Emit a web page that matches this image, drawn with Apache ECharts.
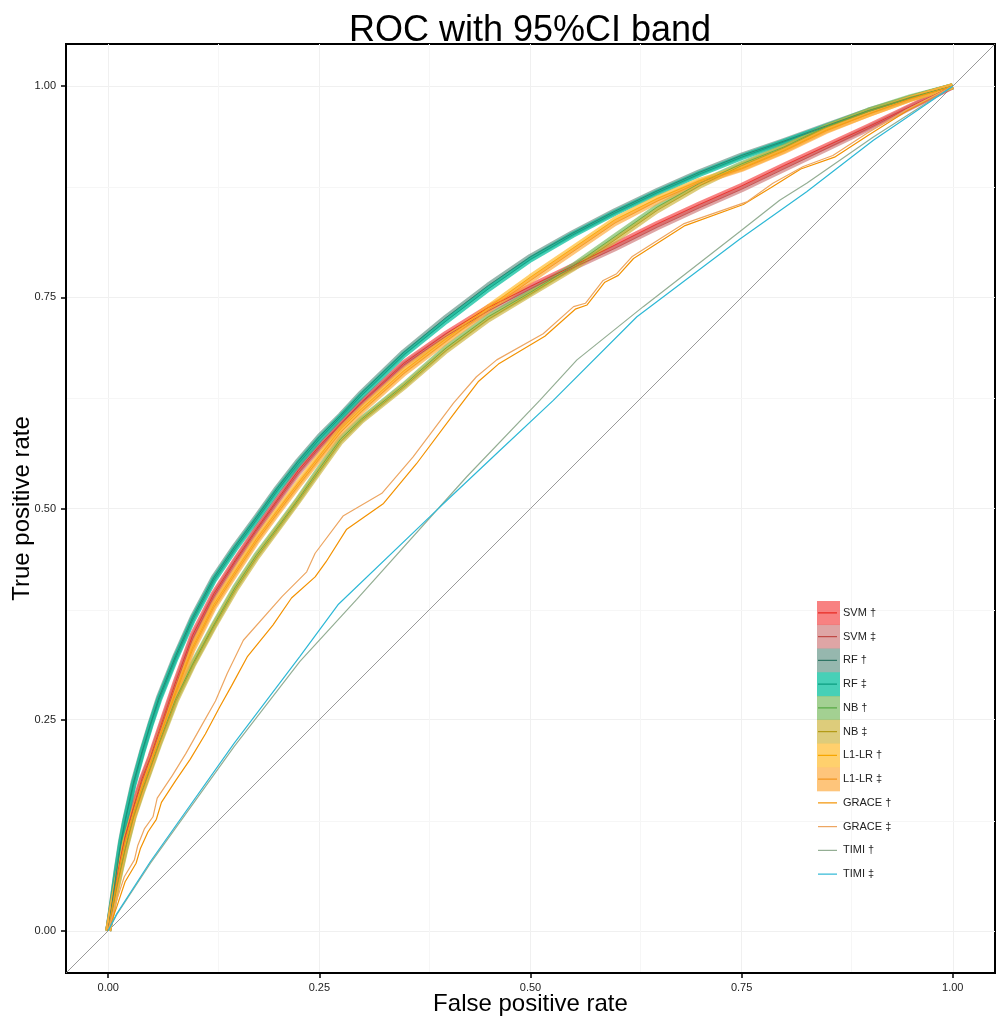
<!DOCTYPE html>
<html>
<head>
<meta charset="utf-8">
<script src="https://cdn.jsdelivr.net/npm/echarts@6/dist/echarts.min.js"></script>
<style>
html,body{margin:0;padding:0;background:#fff;}
#chart{width:1004px;height:1024px;}
</style>
</head>
<body>
<div id="chart"></div>
<script>
// ---------- data ----------
const tickValues = [0, 0.25, 0.5, 0.75, 1];
const gridMajor = [0, 0.25, 0.5, 0.75, 1];
const gridMinor = [0.125, 0.375, 0.625, 0.875];
const diagonal = [[-0.05, -0.05], [1.05, 1.05]];

const fprGrid = [0,0.005,0.01,0.015,0.02,0.03,0.04,0.05,0.06,0.08,0.1,0.125,0.15,0.175,0.2,0.225,0.25,0.275,0.3,0.35,0.4,0.45,0.5,0.55,0.6,0.65,0.7,0.75,0.8,0.85,0.9,0.95,1];

const svm1 = [0,0.032,0.062,0.088,0.112,0.147,0.180,0.206,0.236,0.295,0.350,0.399,0.438,0.475,0.510,0.545,0.574,0.600,0.626,0.672,0.707,0.738,0.763,0.787,0.812,0.837,0.860,0.882,0.906,0.929,0.952,0.976,1];
const svm2 = [0,0.030,0.059,0.086,0.110,0.145,0.177,0.204,0.233,0.291,0.346,0.396,0.436,0.473,0.508,0.542,0.572,0.599,0.625,0.670,0.704,0.734,0.760,0.785,0.808,0.833,0.856,0.878,0.902,0.926,0.950,0.975,1];
const rf1  = [0,0.036,0.072,0.105,0.131,0.176,0.212,0.245,0.276,0.326,0.371,0.418,0.455,0.489,0.524,0.556,0.585,0.610,0.637,0.685,0.726,0.764,0.798,0.826,0.852,0.876,0.898,0.918,0.935,0.953,0.971,0.986,1];
const rf2  = [0,0.034,0.070,0.102,0.129,0.173,0.210,0.243,0.273,0.323,0.368,0.415,0.452,0.486,0.521,0.553,0.582,0.608,0.634,0.682,0.722,0.760,0.795,0.824,0.850,0.874,0.896,0.916,0.934,0.952,0.970,0.986,1];
const nb1  = [0,0.026,0.052,0.075,0.097,0.136,0.166,0.194,0.222,0.275,0.316,0.362,0.406,0.444,0.477,0.511,0.547,0.582,0.606,0.646,0.690,0.727,0.756,0.787,0.822,0.857,0.885,0.908,0.928,0.952,0.971,0.987,1];
const nb2  = [0,0.025,0.050,0.073,0.095,0.134,0.164,0.192,0.220,0.272,0.314,0.360,0.403,0.441,0.475,0.509,0.544,0.579,0.604,0.644,0.687,0.724,0.754,0.784,0.818,0.853,0.882,0.906,0.927,0.951,0.970,0.986,1];
const l1lr1 = [0,0.030,0.058,0.084,0.106,0.140,0.171,0.199,0.228,0.284,0.336,0.386,0.425,0.463,0.497,0.530,0.562,0.594,0.618,0.663,0.701,0.738,0.774,0.808,0.842,0.867,0.888,0.903,0.924,0.948,0.967,0.985,1];
const l1lr2 = [0,0.029,0.056,0.082,0.104,0.138,0.169,0.197,0.226,0.281,0.333,0.383,0.422,0.460,0.494,0.527,0.559,0.590,0.615,0.660,0.698,0.735,0.770,0.804,0.838,0.864,0.886,0.902,0.923,0.947,0.967,0.985,1];

const grace1Fpr = [0,0.010,0.020,0.033,0.038,0.047,0.057,0.063,0.080,0.097,0.115,0.132,0.146,0.165,0.195,0.217,0.245,0.258,0.282,0.326,0.365,0.413,0.438,0.462,0.517,0.553,0.567,0.588,0.604,0.622,0.683,0.752,0.785,0.820,0.860,0.900,0.946,1];
const grace1Tpr = [0,0.028,0.058,0.080,0.097,0.117,0.132,0.152,0.178,0.203,0.233,0.265,0.290,0.325,0.362,0.394,0.419,0.437,0.475,0.506,0.553,0.617,0.650,0.671,0.704,0.736,0.741,0.768,0.776,0.796,0.835,0.860,0.880,0.902,0.916,0.942,0.971,1];
const grace2Fpr = [0,0.009,0.019,0.031,0.035,0.043,0.053,0.058,0.076,0.092,0.110,0.127,0.141,0.160,0.206,0.227,0.235,0.245,0.278,0.324,0.361,0.409,0.436,0.460,0.515,0.551,0.565,0.586,0.602,0.620,0.681,0.756,0.787,0.823,0.858,0.898,0.945,1];
const grace2Tpr = [0,0.033,0.064,0.084,0.101,0.121,0.135,0.157,0.184,0.210,0.242,0.272,0.305,0.344,0.396,0.417,0.425,0.447,0.491,0.518,0.561,0.625,0.656,0.676,0.707,0.739,0.743,0.770,0.778,0.798,0.837,0.863,0.885,0.905,0.918,0.944,0.972,1];

const timi1Fpr = [0,0.010,0.050,0.149,0.227,0.294,0.4245,0.511,0.555,0.6335,0.748,0.795,0.827,0.906,1];
const timi1Tpr = [0,0.019,0.080,0.218,0.319,0.392,0.5376,0.628,0.676,0.739,0.828,0.865,0.885,0.940,1];
const timi2Fpr = [0,0.010,0.050,0.149,0.227,0.272,0.393,0.464,0.527,0.626,0.748,0.827,0.906,1];
const timi2Tpr = [0,0.020,0.082,0.222,0.325,0.386,0.502,0.569,0.628,0.727,0.819,0.875,0.936,1];

const legendNames = ['SVM †','SVM ‡','RF †','RF ‡','NB †','NB ‡','L1-LR †','L1-LR ‡','GRACE †','GRACE ‡','TIMI †','TIMI ‡'];

// ---------- styles ----------
const FONT = '"Liberation Sans", Arial, Helvetica, sans-serif';
const styles = {
  'SVM †':   {band: 'rgba(244,70,70,0.68)',  line: '#E8261F'},
  'SVM ‡':   {band: 'rgba(200,105,105,0.6)', line: '#C04A46'},
  'RF †':    {band: 'rgba(80,135,120,0.6)',  line: '#2F7565'},
  'RF ‡':    {band: 'rgba(0,190,155,0.72)',  line: '#0A9C7E'},
  'NB †':    {band: 'rgba(120,185,95,0.68)', line: '#55A842'},
  'NB ‡':    {band: 'rgba(205,180,60,0.68)', line: '#B39B17'},
  'L1-LR †': {band: 'rgba(255,185,40,0.68)', line: '#F7A600'},
  'L1-LR ‡': {band: 'rgba(253,170,60,0.68)', line: '#F2941C'},
  'GRACE †': {band: null, line: '#F39200'},
  'GRACE ‡': {band: null, line: '#EDA662'},
  'TIMI †':  {band: null, line: '#94AE94'},
  'TIMI ‡':  {band: null, line: '#2DB8D6'}
};

function pairs(xs, ys) { return xs.map((x, i) => [x, ys[i]]); }

const modelData = {
  'SVM †': pairs(fprGrid, svm1),
  'SVM ‡': pairs(fprGrid, svm2),
  'RF †': pairs(fprGrid, rf1),
  'RF ‡': pairs(fprGrid, rf2),
  'NB †': pairs(fprGrid, nb1),
  'NB ‡': pairs(fprGrid, nb2),
  'L1-LR †': pairs(fprGrid, l1lr1),
  'L1-LR ‡': pairs(fprGrid, l1lr2)
};
const scoreData = {
  'GRACE †': pairs(grace1Fpr, grace1Tpr),
  'GRACE ‡': pairs(grace2Fpr, grace2Tpr),
  'TIMI †': pairs(timi1Fpr, timi1Tpr),
  'TIMI ‡': pairs(timi2Fpr, timi2Tpr)
};

const series = [];
// diagonal reference + grid lines
series.push({
  name: 'diag', type: 'line', data: diagonal, symbol: 'none', silent: true, z: 1,
  lineStyle: {color: '#8f8f8f', width: 0.9},
  markLine: {
    silent: true, symbol: ['none', 'none'], z: 0, label: {show: false}, animation: false,
    data: [].concat(
      gridMajor.map(v => ({xAxis: v, lineStyle: {color: '#f0f0f0', width: 1, type: 'solid'}})),
      gridMajor.map(v => ({yAxis: v, lineStyle: {color: '#f0f0f0', width: 1, type: 'solid'}})),
      gridMinor.map(v => ({xAxis: v, lineStyle: {color: '#f6f6f6', width: 1, type: 'solid'}})),
      gridMinor.map(v => ({yAxis: v, lineStyle: {color: '#f6f6f6', width: 1, type: 'solid'}}))
    )
  }
});
// CI bands (drawn as wide translucent strokes)
Object.keys(modelData).forEach(n => {
  series.push({
    name: n + ' band', type: 'line', data: modelData[n], symbol: 'none', silent: true,
    lineStyle: {color: styles[n].band, width: 6, cap: 'butt', join: 'round'}
  });
});
// model lines
Object.keys(modelData).forEach(n => {
  series.push({
    name: n, type: 'line', data: modelData[n], symbol: 'none', silent: true,
    lineStyle: {color: styles[n].line, width: 0.8}
  });
});
// score lines
Object.keys(scoreData).forEach(n => {
  series.push({
    name: n, type: 'line', data: scoreData[n], symbol: 'none', silent: true,
    lineStyle: {color: styles[n].line, width: 1.2}
  });
});

// legend built as graphic (drawn above grid lines)
const legendGraphics = [];
const LX = 817, LY = 601, LH = 23.75;
legendNames.forEach((n, i) => {
  const y = LY + i * LH, cy = y + LH / 2;
  if (styles[n].band) {
    legendGraphics.push({type: 'rect', silent: true, z: 100, shape: {x: LX, y: y, width: 23, height: LH + 0.3}, style: {fill: styles[n].band}});
  }
  legendGraphics.push({type: 'line', silent: true, z: 101, shape: {x1: LX + 1, y1: cy, x2: LX + 20, y2: cy}, style: {stroke: styles[n].line, lineWidth: 1.2}});
  legendGraphics.push({type: 'text', silent: true, z: 102, x: LX + 26, y: cy, style: {text: n, fill: '#222', font: '11px ' + FONT, verticalAlign: 'middle', align: 'left'}});
});

const axisCommon = {
  type: 'value', min: -0.05, max: 1.05,
  splitLine: {show: false},
  axisLine: {show: true, onZero: false, lineStyle: {color: '#000', width: 2}},
  axisTick: {show: true, customValues: tickValues, length: 5, lineStyle: {color: '#000', width: 1.5}},
  axisLabel: {customValues: tickValues, formatter: v => v.toFixed(2), fontSize: 11, color: '#222', fontFamily: FONT},
  nameLocation: 'middle',
  nameMoveOverlap: false,
  nameTextStyle: {fontSize: 24, color: '#000', fontFamily: FONT}
};

const option = {
  animation: false,
  backgroundColor: '#fff',
  title: {
    text: 'ROC with 95%CI band', left: 525, top: 8, textAlign: 'center',
    textStyle: {fontSize: 36, fontWeight: 'normal', color: '#000', fontFamily: FONT}
  },
  grid: {left: 66, top: 44, width: 929, height: 929, show: true, borderColor: '#000', borderWidth: 2, outerBoundsMode: 'none', containLabel: false},
  xAxis: Object.assign({}, axisCommon, {name: 'False positive rate', nameGap: 19, axisLabel: Object.assign({}, axisCommon.axisLabel, {margin: 9})}),
  yAxis: Object.assign({}, axisCommon, {name: 'True positive rate', nameGap: 32, axisLabel: Object.assign({}, axisCommon.axisLabel, {margin: 10})}),
  series: series,
  graphic: legendGraphics
};

const chart = echarts.init(document.getElementById('chart'), null, {renderer: 'canvas'});
chart.setOption(option);
</script>
</body>
</html>
